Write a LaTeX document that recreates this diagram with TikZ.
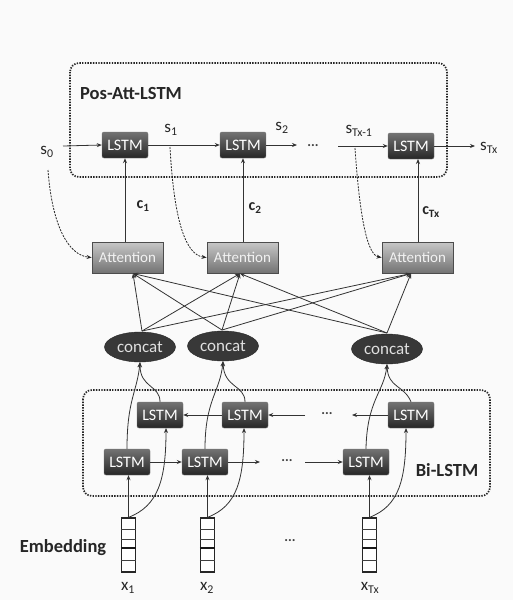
\documentclass[tikz,border=0pt]{standalone}
\usepackage{fontspec}
\setmainfont{Carlito}
\usetikzlibrary{arrows.meta,shapes.geometric}
\begin{document}
\begin{tikzpicture}[x=1pt,y=-1pt,
  lstm/.style={draw=black!55, rounded corners=2pt, top color=black!55, bottom color=black!85,
    text=white, minimum width=46pt, minimum height=26pt, inner sep=0pt,
    font=\fontsize{16}{16}\selectfont},
  att/.style={draw=black!70, line width=0.9pt, top color=black!22, bottom color=black!55, text=black!5,
    minimum width=71pt, minimum height=31pt, inner sep=0pt, font=\fontsize{15}{15}\selectfont},
  concat/.style={ellipse, fill=black!78, draw=black!85, text=black!12, minimum width=71pt,
    minimum height=30pt, inner sep=0pt, font=\fontsize{17}{17}\selectfont},
  emb/.style={draw=black!85, line width=1.3pt, fill=white, minimum width=14pt, minimum height=54pt, inner sep=0pt},
  arr/.style={draw=black!80, line width=0.8pt, -{Stealth[length=5pt,width=4pt]}},
  dcurve/.style={draw=black!85, line width=0.8pt, dash pattern=on 2pt off 1.2pt, -{Stealth[length=5pt,width=4pt]}},
  lbl/.style={font=\fontsize{17}{17}\selectfont, text=black!85, inner sep=1pt},
  clbl/.style={font=\bfseries\fontsize{16}{16}\selectfont, text=black!85, inner sep=1pt},
  title/.style={font=\bfseries\fontsize{18.5}{18.5}\selectfont, text=black!85, inner sep=0pt},
  dots/.style={font=\bfseries\fontsize{14}{14}\selectfont, text=black!75, inner sep=0pt},
  group/.style={draw=black!85, line width=1.7pt, dash pattern=on 1.4pt off 1.3pt, rounded corners=9pt}
]
\fill[black!2] (0,0) rectangle (513,600);
\useasboundingbox (0,0) rectangle (513,600);

% group boxes
\draw[group] (70,63) rectangle (447,177);
\draw[group] (83,390) rectangle (490,496);
\node[title] (pal) at (131,93) {Pos-Att-LSTM};
\node[title] (bil) at (447,470) {Bi-LSTM};
\node[title] (embl) at (63,548) {Embedding};

% top decoder LSTMs
\node[lstm] (t1) at (125,145) {LSTM};
\node[lstm] (t2) at (243,145) {LSTM};
\node[lstm] (t3) at (411,146) {LSTM};

\node[lbl] (s0) at (47,152) {s\textsubscript{0}};
\node[lbl] (s1) at (171,130) {s\textsubscript{1}};
\node[lbl] (s2) at (282,128) {s\textsubscript{2}};
\node[lbl] (stm) at (359,131) {s\textsubscript{Tx-1}};
\node[lbl] (stx) at (489,148) {s\textsubscript{Tx}};
\node[dots] (tdots) at (313,146) {...};

\coordinate (t2out) at (297,145);
\coordinate (t3in) at (338,146);
\coordinate (t3out) at (475,146);
\coordinate (s1d) at (170,147);
\coordinate (stmd) at (355,148);

\draw[arr] (63,146) -- (t1.west);
\draw[arr] (t1.east) -- (t2.west);
\draw[arr] (t2.east) -- (t2out);
\draw[arr] (t3in) -- (t3.west);
\draw[arr] (t3.east) -- (t3out);

% attention
\node[att] (a1) at (127.5,257.5) {Attention};
\node[att] (a2) at (242.5,257.5) {Attention};
\node[att] (a3) at (417.5,257.5) {Attention};

\draw[arr] (a1.north -| t1.south) -- (t1.south);
\draw[arr] (a2.north -| t2.south) -- (t2.south);
\draw[arr] (418,242) -- (418,159);
\node[clbl] (c1) at (143,206) {c\textsubscript{1}};
\node[clbl] (c2) at (255,208) {c\textsubscript{2}};
\node[clbl] (ctx) at (431,212) {c\textsubscript{Tx}};

\draw[dcurve] (48,170) .. controls (52,225) and (68,255) .. (a1.west);
\draw[dcurve] (s1d) .. controls (174,222) and (186,255) .. (a2.west);
\draw[dcurve] (stmd) .. controls (360,222) and (368,255) .. (a3.west);

% concat
\node[concat] (k1) at (140,347) {concat};
\node[concat] (k2) at (223,346) {concat};
\node[concat] (k3) at (387,349) {concat};

\foreach \k/\kx/\ky in {k1/142/331, k2/222/330, k3/387/333}{
  \draw[arr] (\kx,\ky) -- (133,273.5);
  \draw[arr] (\kx,\ky) -- (240,273.5);
  \draw[arr] (\kx,\ky) -- (411,273.5);
}

% Bi-LSTM
\node[lstm] (b1) at (160,415) {LSTM};
\node[lstm] (b2) at (245,415) {LSTM};
\node[lstm] (b3) at (411,415) {LSTM};
\node[lstm] (f1) at (127,462) {LSTM};
\node[lstm] (f2) at (205,462) {LSTM};
\node[lstm] (f3) at (366,462) {LSTM};

\node[dots] (fdots) at (287,461) {...};
\node[dots] (bdots) at (327,414) {...};
\coordinate (f2out) at (260,462);
\coordinate (f3in) at (305,462);
\coordinate (b3out) at (352,415);
\coordinate (b2in) at (305,415);

\draw[arr] (f1.east) -- (f2.west);
\draw[arr] (f2.east) -- (f2out);
\draw[arr] (f3in) -- (f3.west);
\draw[arr] (b3.west) -- (b3out);
\draw[arr] (b2in) -- (b2.east);
\draw[arr] (b2.west) -- (b1.east);

% outputs to concat
\draw[arr] (f1.north) .. controls (127,400) and (137,392) .. (k1.south);
\draw[arr] (b1.north) .. controls (160,385) and (140,388) .. (k1.south);
\draw[arr] (f2.north) .. controls (205,400) and (220,392) .. (k2.south);
\draw[arr] (b2.north) .. controls (245,385) and (224,388) .. (k2.south);
\draw[arr] (f3.north) .. controls (367,400) and (384,392) .. (k3.south);
\draw[arr] (b3.north) .. controls (404,385) and (388,388) .. (k3.south);

% embeddings
\foreach \e/\ex in {e1/128.5, e2/207.5, e3/369.5}{
  \node[emb] (\e) at (\ex,545) {};
  \draw[black!75, line width=0.9pt] (\e.west |- 0,529) -- (\e.east |- 0,529);
  \draw[black!75, line width=0.9pt] (\e.west |- 0,539) -- (\e.east |- 0,539);
  \draw[black!90, line width=1.5pt] (\e.west |- 0,548) -- (\e.east |- 0,548);
  \draw[black!75, line width=0.9pt] (\e.west |- 0,560) -- (\e.east |- 0,560);
}
\node[dots] (edots) at (290,541) {...};

\draw[arr] (e1.north) -- (e1.north |- f1.south);
\draw[arr] (e2.north) -- (e2.north |- f2.south);
\draw[arr] (e3.north) -- (e3.north |- f3.south);
\draw[arr] (e1.north) .. controls (158,506) and (166,480) .. (166,428);
\draw[arr] (e2.north) .. controls (237,506) and (244,480) .. (244,428);
\draw[arr] (e3.north) .. controls (399,506) and (406,480) .. (406,428);

\node[lbl] (x1) at (128,588) {x\textsubscript{1}};
\node[lbl] (x2) at (207,588) {x\textsubscript{2}};
\node[lbl] (xtx) at (370,588) {x\textsubscript{Tx}};
\end{tikzpicture}
\end{document}
